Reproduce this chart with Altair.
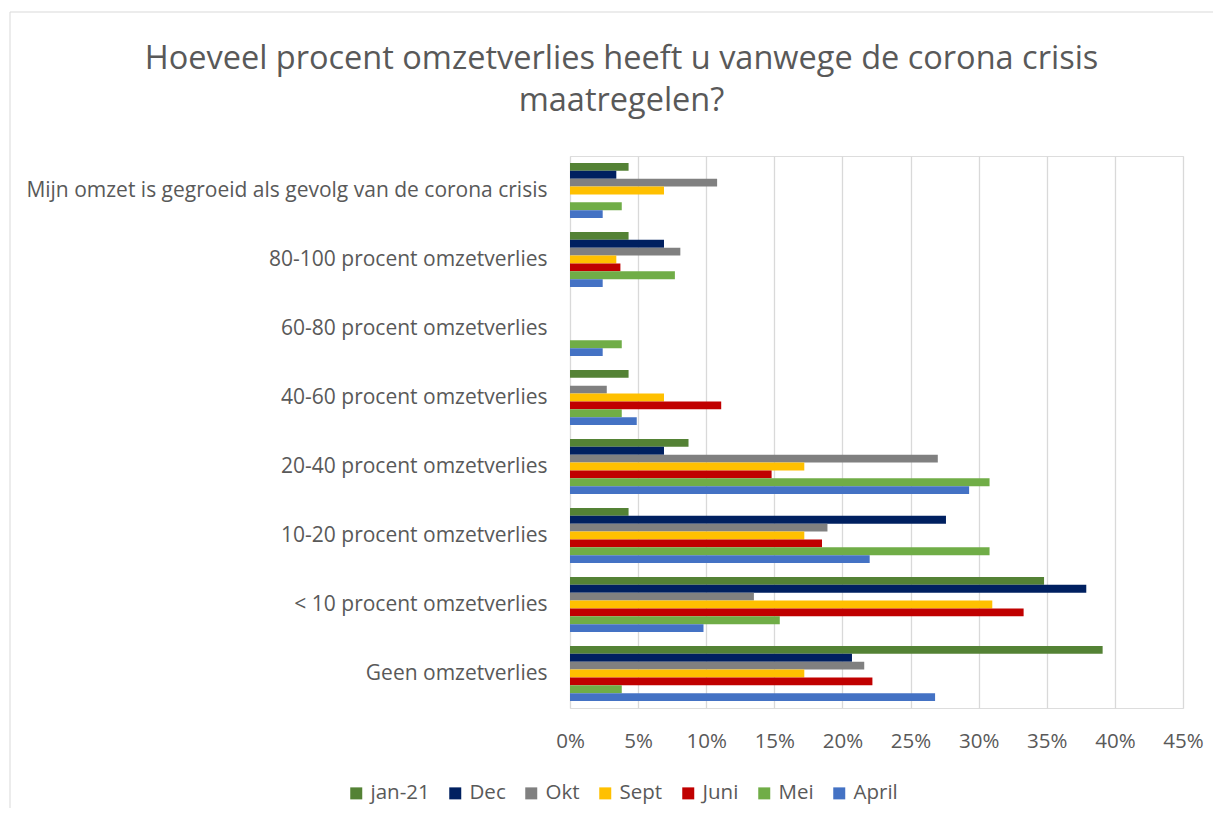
import altair as alt
import pandas as pd

categories = [
    "Mijn omzet is gegroeid als gevolg van de corona crisis",
    "80-100 procent omzetverlies",
    "60-80 procent omzetverlies",
    "40-60 procent omzetverlies",
    "20-40 procent omzetverlies",
    "10-20 procent omzetverlies",
    "< 10 procent omzetverlies",
    "Geen omzetverlies",
]
series = ["jan-21", "Dec", "Okt", "Sept", "Juni", "Mei", "April"]
colors = ["#548235", "#002060", "#808080", "#FFC000", "#C00000", "#70AD47", "#4472C4"]

jan21 = [4.3, 4.3, 0.0, 4.3, 8.7, 4.3, 34.8, 39.1]
dec = [3.4, 6.9, 0.0, 0.0, 6.9, 27.6, 37.9, 20.7]
okt = [10.8, 8.1, 0.0, 2.7, 27.0, 18.9, 13.5, 21.6]
sept = [6.9, 3.4, 0.0, 6.9, 17.2, 17.2, 31.0, 17.2]
juni = [0.0, 3.7, 0.0, 11.1, 14.8, 18.5, 33.3, 22.2]
mei = [3.8, 7.7, 3.8, 3.8, 30.8, 30.8, 15.4, 3.8]
april = [2.4, 2.4, 2.4, 4.9, 29.3, 22.0, 9.8, 26.8]

values = {"jan-21": jan21, "Dec": dec, "Okt": okt, "Sept": sept,
          "Juni": juni, "Mei": mei, "April": april}

rows = []
for s in series:
    for c, v in zip(categories, values[s]):
        rows.append({"cat": c, "serie": s, "value": v / 100.0})
df = pd.DataFrame(rows)

FONT = "Open Sans"
GREY = "#595959"

bars = alt.Chart(df).mark_bar().encode(
    x=alt.X("value:Q",
            scale=alt.Scale(domain=[0, 0.45], nice=False),
            axis=alt.Axis(values=[0, 0.05, 0.1, 0.15, 0.2, 0.25, 0.3, 0.35, 0.4, 0.45],
                          format=".0%", title=None, domain=False, ticks=False,
                          labelFlush=False,
                          labelFontSize=20.5, labelColor=GREY, labelFont=FONT,
                          labelPadding=23, gridColor="#d9d9d9", gridWidth=1.3)),
    y=alt.Y("cat:N", sort=categories,
            scale=alt.Scale(paddingInner=0.2, paddingOuter=0.1),
            axis=alt.Axis(title=None, domain=False, ticks=False, grid=False,
                          labelFontSize=21, labelColor=GREY, labelFont=FONT,
                          labelPadding=23, labelLimit=600)),
    yOffset=alt.YOffset("serie:N", sort=series),
    color=alt.Color("serie:N", sort=series,
                    scale=alt.Scale(domain=series, range=colors),
                    legend=alt.Legend(title=None, orient="none", direction="horizontal",
                                      columns=7, legendX=-224, legendY=627,
                                      symbolType="square", symbolSize=144,
                                      symbolStrokeWidth=0, labelFontSize=20.5,
                                      labelColor=GREY, labelFont=FONT,
                                      labelOffset=4, columnPadding=15, padding=0)),
)

border = alt.Chart(alt.Data(values=[{}])).mark_rect(
    fill=None, stroke="#d9d9d9", strokeWidth=1
).encode(x=alt.value(-560), x2=alt.value(700), y=alt.value(-144), y2=alt.value(700))

chart = alt.layer(border, bars).properties(
    width=613, height=552,
    autosize=alt.AutoSizeParams(type="none"),
    padding={"left": 562, "top": 148, "right": 30, "bottom": 100},
    title=alt.TitleParams(
        text=["Hoeveel procent omzetverlies heeft u vanwege de corona crisis", "maatregelen?"],
        fontSize=32.5, font=FONT, fontWeight="normal", color=GREY,
        anchor="middle", frame="group", dx=-255, dy=146, offset=40, lineHeight=42,
    ),
).configure_view(stroke=None).configure(background="white")

chart.save("out.html", embed_options={"renderer": "svg", "actions": False})
